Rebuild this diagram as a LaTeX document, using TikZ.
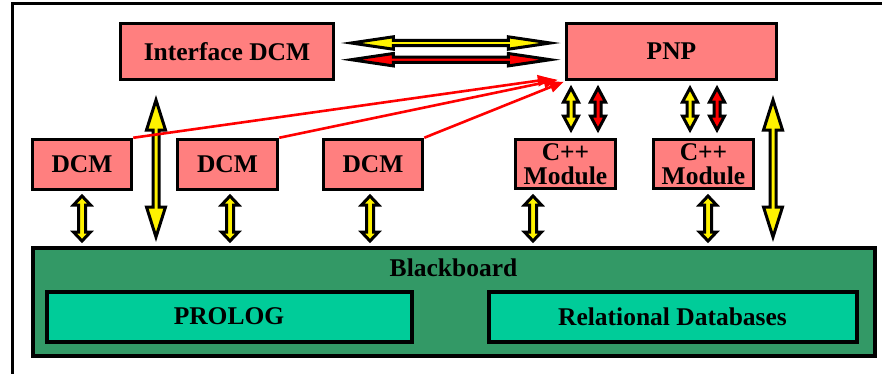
\documentclass[tikz,border=0pt]{standalone}
\usepackage{fontspec}
\setmainfont{Liberation Serif}
\usetikzlibrary{calc,arrows.meta}
\definecolor{boxpink}{HTML}{FF7F7F}
\definecolor{bbgreen}{HTML}{339966}
\definecolor{dbgreen}{HTML}{00CC99}
\tikzset{
  lbl/.style={font=\fontsize{25.5}{24}\selectfont\bfseries, align=center, inner sep=0pt},
  pinkbox/.style={lbl, draw=black, line width=3.5pt, fill=boxpink},
  greenbox/.style={lbl, draw=black, line width=4pt, fill=bbgreen},
  dbbox/.style={lbl, draw=black, line width=4pt, fill=dbgreen},
  % double-headed block arrow: shaft half width, head half width, head length
  blk/.style n args={3}{to path={
    -- ($(\tikztostart)!#3!(\tikztotarget)!#2!90:(\tikztotarget)$)
    -- ($(\tikztostart)!#3!(\tikztotarget)!#1!90:(\tikztotarget)$)
    -- ($(\tikztotarget)!#3!(\tikztostart)!#1!-90:(\tikztostart)$)
    -- ($(\tikztotarget)!#3!(\tikztostart)!#2!-90:(\tikztostart)$)
    -- (\tikztotarget)
    -- ($(\tikztotarget)!#3!(\tikztostart)!-#2!-90:(\tikztostart)$)
    -- ($(\tikztotarget)!#3!(\tikztostart)!-#1!-90:(\tikztostart)$)
    -- ($(\tikztostart)!#3!(\tikztotarget)!-#1!90:(\tikztotarget)$)
    -- ($(\tikztostart)!#3!(\tikztotarget)!-#2!90:(\tikztotarget)$)
    -- cycle}},
  ylw/.style={draw=black, fill=yellow, line width=3pt, miter limit=12},
  rdf/.style={draw=black, fill=red, line width=3pt, miter limit=12},
  shortblk/.style={blk={3.5pt}{8.5pt}{9pt}},
  longblk/.style={blk={3pt}{9.5pt}{30pt}},
  pnpblk/.style={blk={3pt}{7.5pt}{14pt}},
  horzblk/.style={blk={2.7pt}{6.2pt}{42pt}},
  redline/.style={red, line width=2.6pt, -{Triangle[length=14pt,width=11pt]}}
}
\begin{document}
\begin{tikzpicture}[x=1pt, y=-1pt]
\useasboundingbox (0,0) rectangle (882,373);
% outer frame
\draw[line width=3pt] (882,3) -- (12,3) -- (12,374);

% top row
\node[pinkbox, minimum width=213pt, minimum height=56pt] (iface) at (227,51.5) {Interface DCM};
\node[pinkbox, minimum width=210pt, minimum height=56pt] (pnp) at (671.5,51.5) {PNP};

% middle row
\node[pinkbox, minimum width=99pt, minimum height=50pt] (dcm1) at (82,164.5) {DCM};
\node[pinkbox, minimum width=100pt, minimum height=50pt] (dcm2) at (227.5,164.5) {DCM};
\node[pinkbox, minimum width=99pt, minimum height=50pt] (dcm3) at (373,164.5) {DCM};
\node[pinkbox, minimum width=100pt, minimum height=49pt] (cpp1) at (565.5,164) {C++\\Module};
\node[pinkbox, minimum width=100pt, minimum height=49pt] (cpp2) at (703.5,164) {C++\\Module};

% blackboard
\node[greenbox, minimum width=842pt, minimum height=108pt] (bb) at (453.5,301.5) {};
\node[lbl] (bbl) at (453.5,268) {Blackboard};
\node[dbbox, minimum width=365pt, minimum height=50pt] (prolog) at (229,316.5) {PROLOG};
\node[dbbox, minimum width=368pt, minimum height=50pt] (reldb) at (672.5,316.5) {Relational Databases};

% arrow end points
\coordinate (hy1) at ($(iface.east)+(16,-8.5)$);
\coordinate (hy2) at ($(pnp.west)+(-14.5,-8.5)$);
\coordinate (hr1) at ($(iface.east)+(16,8.2)$);
\coordinate (hr2) at ($(pnp.west)+(-14.5,8.2)$);

\coordinate (b1t) at (82,196);   \coordinate (b1b) at (82,241);
\coordinate (b2t) at (230,196);  \coordinate (b2b) at (230,241);
\coordinate (b3t) at (370,196);  \coordinate (b3b) at (370,241);
\coordinate (b4t) at (533,196);  \coordinate (b4b) at (533,241);
\coordinate (b5t) at (708,196);  \coordinate (b5b) at (708,241);

\coordinate (l1t) at (156,100);  \coordinate (l1b) at (156,237);
\coordinate (l2t) at (773,100);  \coordinate (l2b) at (773,237);

\coordinate (p1t) at (571,88);   \coordinate (p1b) at (571,130);
\coordinate (p2t) at (598,88);   \coordinate (p2b) at (598,130);
\coordinate (p3t) at (690,88);   \coordinate (p3b) at (690,130);
\coordinate (p4t) at (717,88);   \coordinate (p4b) at (717,130);

\coordinate (h1) at ($(pnp.south west)+(-13,-2.5)$);
\coordinate (h2) at ($(pnp.south west)+(-7,-1.5)$);
\coordinate (h3) at ($(pnp.south west)+(-1,0.5)$);

% Interface DCM <-> PNP
\draw[ylw, horzblk] (hy1) to (hy2);
\draw[rdf, horzblk] (hr1) to (hr2);

% modules <-> blackboard
\draw[ylw, shortblk] (b1t) to (b1b);
\draw[ylw, shortblk] (b2t) to (b2b);
\draw[ylw, shortblk] (b3t) to (b3b);
\draw[ylw, shortblk] (b4t) to (b4b);
\draw[ylw, shortblk] (b5t) to (b5b);

% long links to the blackboard
\draw[ylw, longblk] (l1t) to (l1b);
\draw[ylw, longblk] (l2t) to (l2b);

% C++ modules <-> PNP
\draw[ylw, pnpblk] (p1t) to (p1b);
\draw[rdf, pnpblk] (p2t) to (p2b);
\draw[ylw, pnpblk] (p3t) to (p3b);
\draw[rdf, pnpblk] (p4t) to (p4b);

% DCMs -> PNP
\draw[redline] (dcm1.north east) -- (h1);
\draw[redline] (dcm2.north east) -- (h2);
\draw[redline] (dcm3.north east) -- (h3);
\end{tikzpicture}
\end{document}
